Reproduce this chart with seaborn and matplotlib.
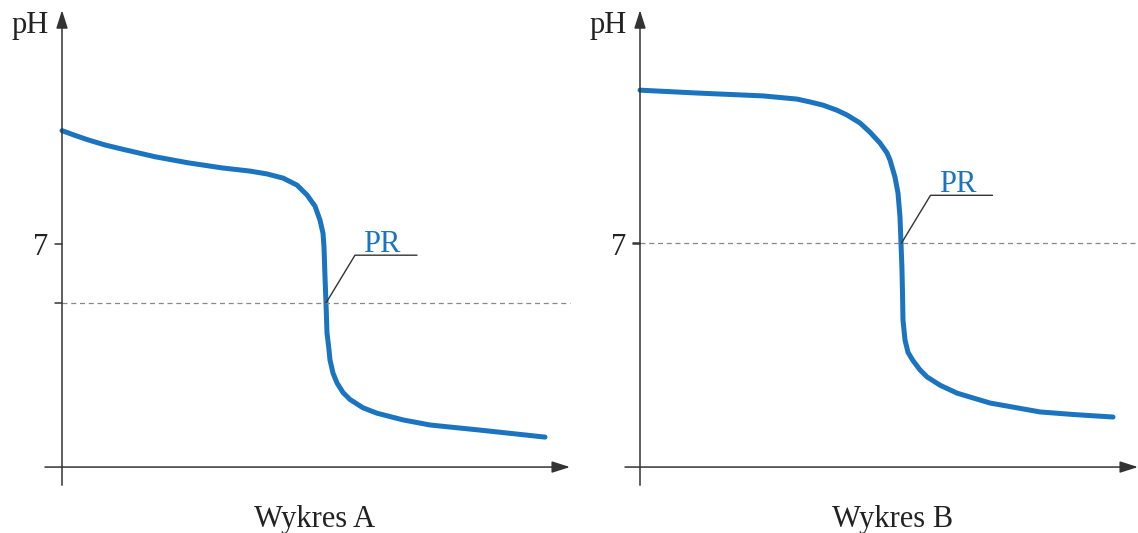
import matplotlib
matplotlib.use('Agg')
import matplotlib.pyplot as plt
import seaborn as sns
import pandas as pd

# objetosc (jedn. umowne) i pH
vol_a = [0.0, 1.3, 2.6, 4.3, 6.0, 9.3, 12.6, 16.0, 18.8, 20.5, 22.1, 23.5, 24.5,
         25.3, 25.8, 26.1, 26.2, 26.3, 26.4, 26.5, 26.7, 26.8, 27.1, 27.5, 28.1,
         28.8, 30.1, 31.5, 34.1, 36.8, 41.8, 48.3]
ph_a = [10.56, 10.41, 10.27, 10.11, 9.98, 9.74, 9.55, 9.39, 9.29, 9.20, 9.07, 8.85,
        8.54, 8.19, 7.75, 7.34, 6.91, 5.96, 5.15, 4.21, 3.68, 3.36, 2.95, 2.64, 2.34,
        2.12, 1.86, 1.69, 1.48, 1.32, 1.16, 0.94]

vol_b = [0.0, 5.7, 12.3, 15.7, 17.0, 18.3, 19.7, 20.7, 22.0, 23.0, 24.0, 24.7, 25.0,
         25.5, 25.8, 26.0, 26.1, 26.2, 26.25, 26.3, 26.5, 26.8, 27.3, 28.0, 28.7,
         30.0, 31.7, 35.0, 40.0, 43.3, 47.3]
ph_b = [11.83, 11.74, 11.65, 11.55, 11.46, 11.36, 11.20, 11.05, 10.80, 10.51, 10.17,
        9.86, 9.64, 9.10, 8.60, 7.85, 7.03, 6.18, 5.46, 4.61, 3.99, 3.60, 3.34, 3.05,
        2.83, 2.57, 2.32, 2.01, 1.73, 1.65, 1.57]

pr_a = (26.4, 5.15)   # punkt rownowaznikowy A
pr_b = (26.15, 7.03)  # punkt rownowaznikowy B
titles = ['Wykres A', 'Wykres B']

BLUE = '#1a74bf'
AXC = '#333333'

sns.set_style('white')
plt.rcParams['font.family'] = ['Liberation Serif', 'DejaVu Serif']

fig = plt.figure(figsize=(11.38, 5.33), dpi=100)
W, H = 1138, 533


def panel(px0, px1, axis_px, vol, ph, pr, title, xaxis_start, xaxis_end, dash_end):
    ax = fig.add_axes([px0 / W, 0, (px1 - px0) / W, 1])
    ax.set_xlim((px0 - axis_px) / 10, (px1 - axis_px) / 10)
    ax.set_ylim(-2.07, 14.66)
    ax.axis('off')

    df = pd.DataFrame({'V': vol, 'pH': ph})
    sns.lineplot(data=df, x='V', y='pH', ax=ax, color=BLUE, lw=3.6,
                 sort=False, estimator=None)
    for l in ax.lines:
        l.set_solid_capstyle('round')
        l.set_solid_joinstyle('round')

    arr = dict(arrowstyle='-|>,head_length=1.1,head_width=0.35', color=AXC,
               lw=1.1, shrinkA=0, shrinkB=0, mutation_scale=10)
    ax.annotate('', xy=(0, 14.34), xytext=(0, -0.57), arrowprops=arr)
    ax.annotate('', xy=(xaxis_end, 0), xytext=(xaxis_start, 0), arrowprops=arr)

    # przerywana linia na poziomie PR
    ax.plot([0, dash_end], [pr[1], pr[1]], ls=(0, (4, 3)), color='#888888', lw=0.9)
    # znaczniki
    ax.plot([-0.7, 0], [7, 7], color=AXC, lw=1.1)
    ax.plot([-0.7, 0], [pr[1], pr[1]], color=AXC, lw=1.1)
    ax.text(-1.4, 6.65, '7', ha='right', va='baseline', fontsize=22, color='#222222')
    ax.text(-1.3, 13.62, 'pH', ha='right', va='baseline', fontsize=22, color='#222222')

    # odnosnik PR
    kx, ky = pr[0] + 2.9, pr[1] + 1.5
    ax.plot([pr[0], kx, kx + 6.2], [pr[1], ky, ky], color=AXC, lw=1.0)
    ax.text(kx + 2.7, ky + 0.1, 'PR', ha='center', va='baseline', fontsize=22, color=BLUE)

    ax.text(25.3, -1.88, title, ha='center', va='baseline', fontsize=22, color='#222222')
    return ax


panel(0, 580, 62, vol_a, ph_a, pr_a, titles[0], -1.7, 50.8, 50.8)
panel(580, 1138, 640, vol_b, ph_b, pr_b, titles[1], -1.5, 49.8, 49.8)

fig.savefig('out.png', dpi=100)
